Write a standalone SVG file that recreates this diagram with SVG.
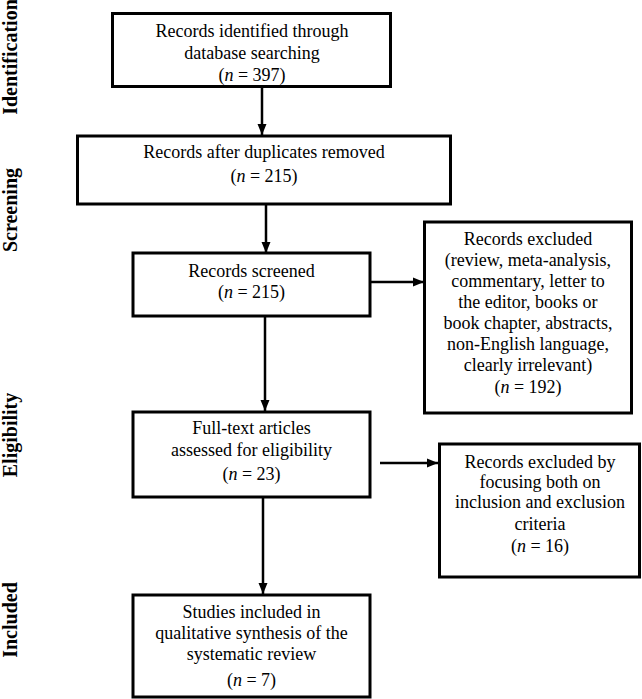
<svg xmlns="http://www.w3.org/2000/svg" width="642" height="699" viewBox="0 0 642 699">
<style>
.box{fill:#fff;stroke:#000;stroke-width:3}
.t{font-family:"Liberation Serif","Times New Roman",serif;font-size:18px;fill:#000;text-anchor:middle}
.lab{font-family:"Liberation Serif","Times New Roman",serif;font-size:20px;font-weight:bold;fill:#000;text-anchor:middle}
.c{fill:none;stroke:#000;stroke-width:2.5}
.i{font-style:italic}
</style>
<defs>
<marker id="ah" markerUnits="userSpaceOnUse" markerWidth="12" markerHeight="12" viewBox="0 0 12 12" refX="11" refY="6" orient="auto">
<path d="M0,1.5 L11,6 L0,10.5 Z" fill="#000"/>
</marker>
</defs>
<g id="labels">
<text class="lab" transform="translate(17,57) rotate(-90)">Identification</text>
<text class="lab" transform="translate(17,210) rotate(-90)">Screening</text>
<text class="lab" transform="translate(17,435) rotate(-90)">Eligibility</text>
<text class="lab" transform="translate(17,620) rotate(-90)">Included</text>
</g>
<g id="connectors">
<line class="c" x1="262" y1="88" x2="262" y2="135" marker-end="url(#ah)"/>
<line class="c" x1="266" y1="205" x2="266" y2="253" marker-end="url(#ah)"/>
<line class="c" x1="371" y1="282" x2="424" y2="282" marker-end="url(#ah)"/>
<line class="c" x1="265" y1="317" x2="265" y2="411" marker-end="url(#ah)"/>
<line class="c" x1="380" y1="463" x2="438" y2="463" marker-end="url(#ah)"/>
<line class="c" x1="263" y1="498" x2="263" y2="594" marker-end="url(#ah)"/>
</g>
<g id="identified">
<rect class="box" x="112.5" y="13.5" width="278" height="73"/>
<text class="t" x="252" y="37">Records identified through</text>
<text class="t" x="252" y="59">database searching</text>
<text class="t" x="252" y="81">(<tspan class="i">n</tspan> = 397)</text>
</g>
<g id="duplicates">
<rect class="box" x="77.5" y="136" width="373" height="68"/>
<text class="t" x="264" y="158">Records after duplicates removed</text>
<text class="t" x="264" y="182">(<tspan class="i">n</tspan> = 215)</text>
</g>
<g id="screened">
<rect class="box" x="133" y="253" width="237" height="63"/>
<text class="t" x="251.5" y="277">Records screened</text>
<text class="t" x="251.5" y="298">(<tspan class="i">n</tspan> = 215)</text>
</g>
<g id="excluded1">
<rect class="box" x="424.5" y="222" width="207" height="191"/>
<text class="t" x="528" y="245">Records excluded</text>
<text class="t" x="528" y="266">(review, meta-analysis,</text>
<text class="t" x="528" y="287">commentary, letter to</text>
<text class="t" x="528" y="308">the editor, books or</text>
<text class="t" x="528" y="329">book chapter, abstracts,</text>
<text class="t" x="528" y="350">non-English language,</text>
<text class="t" x="528" y="371">clearly irrelevant)</text>
<text class="t" x="528" y="393">(<tspan class="i">n</tspan> = 192)</text>
</g>
<g id="fulltext">
<rect class="box" x="133" y="412" width="237" height="85"/>
<text class="t" x="251.5" y="434">Full-text articles</text>
<text class="t" x="251.5" y="456">assessed for eligibility</text>
<text class="t" x="251.5" y="480">(<tspan class="i">n</tspan> = 23)</text>
</g>
<g id="excluded2">
<rect class="box" x="439.5" y="444" width="200" height="133"/>
<text class="t" x="540" y="468">Records excluded by</text>
<text class="t" x="540" y="488">focusing both on</text>
<text class="t" x="540" y="508">inclusion and exclusion</text>
<text class="t" x="540" y="530">criteria</text>
<text class="t" x="540" y="552">(<tspan class="i">n</tspan> = 16)</text>
</g>
<g id="included">
<rect class="box" x="133" y="595" width="237" height="102"/>
<text class="t" x="251.5" y="618">Studies included in</text>
<text class="t" x="251.5" y="639">qualitative synthesis of the</text>
<text class="t" x="251.5" y="660">systematic review</text>
<text class="t" x="251.5" y="686">(<tspan class="i">n</tspan> = 7)</text>
</g>
</svg>
